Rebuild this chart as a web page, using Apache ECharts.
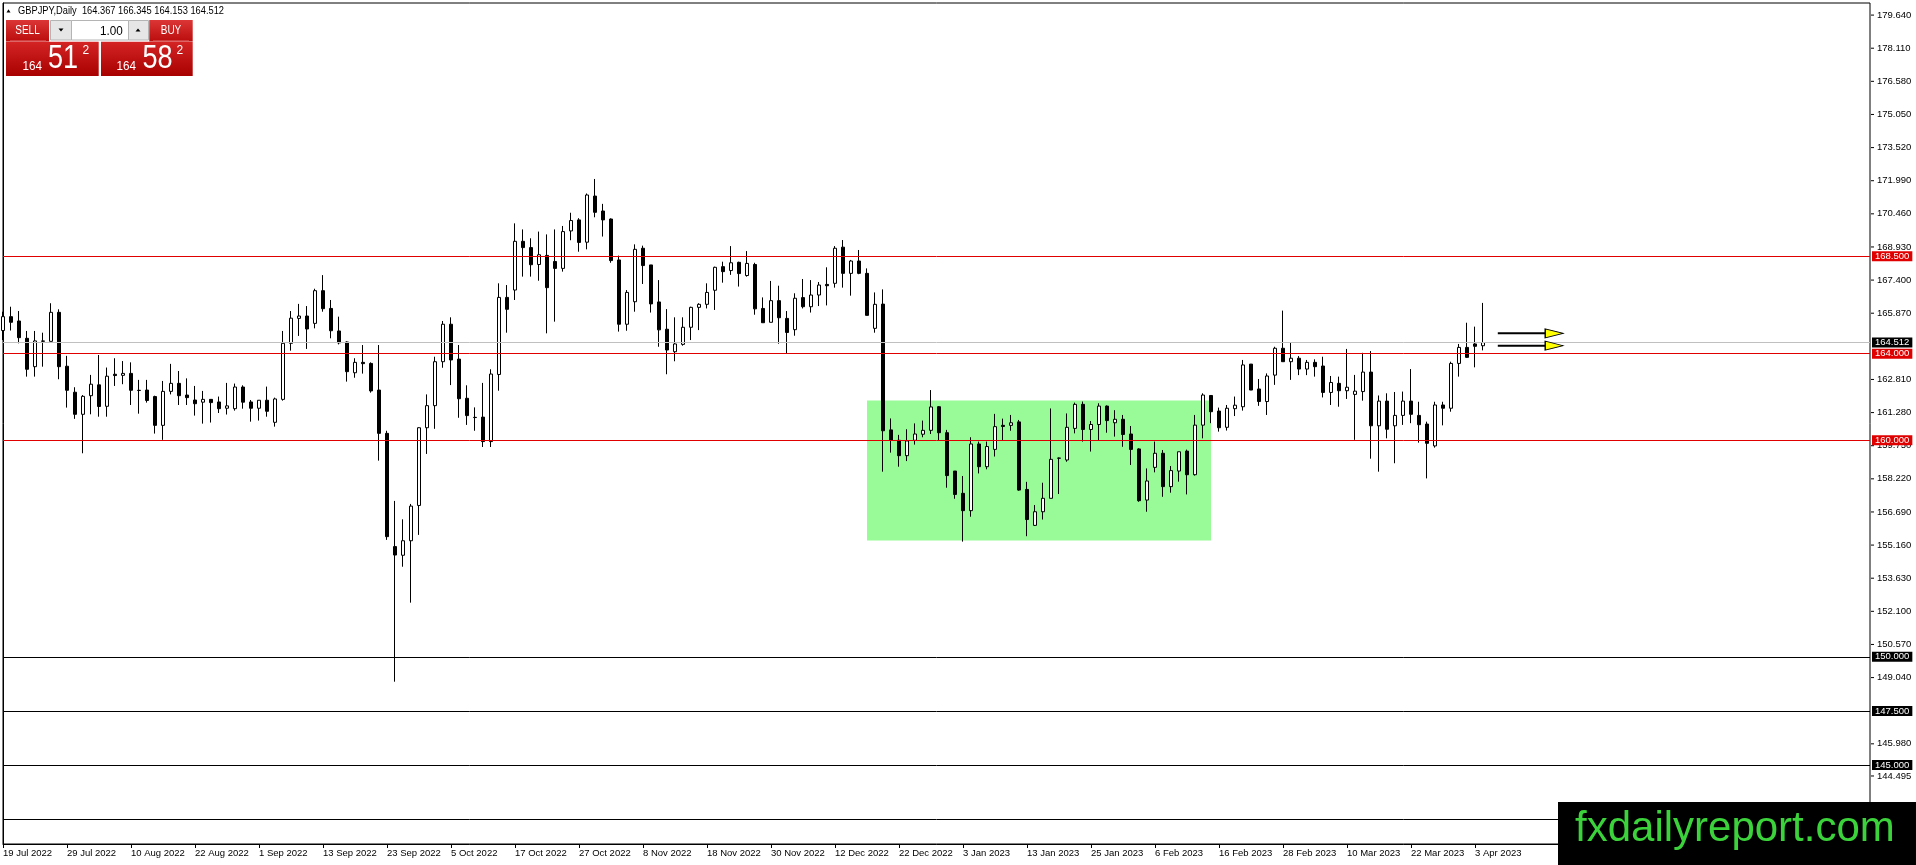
<!DOCTYPE html>
<html><head><meta charset="utf-8">
<script src="https://cdn.jsdelivr.net/npm/echarts@6/dist/echarts.min.js"></script>
<style>html,body{margin:0;padding:0;background:#fff;overflow:hidden}#c{width:1916px;height:865px;}</style>
</head><body><div id="c"></div>
<script>
// ---- data ----
const xTickLabels = ['19 Jul 2022','29 Jul 2022','10 Aug 2022','22 Aug 2022','1 Sep 2022','13 Sep 2022','23 Sep 2022','5 Oct 2022','17 Oct 2022','27 Oct 2022','8 Nov 2022','18 Nov 2022','30 Nov 2022','12 Dec 2022','22 Dec 2022','3 Jan 2023','13 Jan 2023','25 Jan 2023','6 Feb 2023','16 Feb 2023','28 Feb 2023','10 Mar 2023','22 Mar 2023','3 Apr 2023'];
const xTickBars = [0,8,16,24,32,40,48,56,64,72,80,88,96,104,112,120,128,136,144,152,160,168,176,184];
const yTickLabels = ['179.640','178.110','176.580','175.050','173.520','171.990','170.460','168.930','167.400','165.870','162.810','161.280','159.750','158.220','156.690','155.160','153.630','152.100','150.570','149.040','145.980','144.495'];

const opens = [165.07,165.71,165.51,164.71,163.40,164.57,164.57,165.91,163.42,162.22,
161.20,162.06,162.56,161.57,163.05,163.00,163.09,162.31,162.32,162.02,
160.69,162.26,162.63,162.09,161.86,161.76,161.89,161.77,161.48,161.46,
162.46,161.77,161.48,161.85,160.83,161.89,164.48,165.63,165.74,165.40,
166.91,166.09,165.05,164.54,163.12,163.60,163.55,162.32,160.32,155.09,
154.69,155.36,156.99,160.58,161.60,163.63,165.36,163.75,161.94,161.06,
161.07,159.94,163.04,166.60,166.94,169.19,168.90,168.12,168.54,168.26,
167.94,169.67,170.18,169.15,171.28,170.59,170.22,168.33,165.36,166.40,
168.87,168.10,166.39,165.13,164.09,164.43,165.22,166.14,166.28,166.93,
168.02,167.84,168.22,167.61,168.12,166.09,165.45,166.45,165.63,165.11,
166.59,166.17,166.71,167.20,167.25,168.92,167.71,168.28,167.71,165.17,
166.29,160.48,160.00,159.29,160.00,160.28,160.46,161.55,160.35,158.58,
157.55,156.75,159.83,158.78,159.58,160.69,160.69,160.85,157.73,156.07,
156.70,157.32,159.17,159.09,160.55,161.66,160.50,160.73,161.58,160.81,
160.97,160.29,159.60,157.24,158.75,159.40,157.86,158.58,159.50,158.41,
160.70,162.07,161.35,160.60,161.46,161.55,163.52,162.37,161.79,163.01,
164.25,163.63,163.79,163.29,163.60,163.43,162.21,162.63,162.29,162.12,
162.25,163.15,160.67,161.81,160.67,161.15,161.81,161.15,160.75,159.74,
161.63,161.48,163.55,164.29,164.45,164.367];
const closes = [165.71,165.45,164.74,163.28,164.59,164.59,165.91,163.40,162.31,161.20,
162.03,162.59,161.56,162.96,162.99,163.09,162.31,162.30,161.84,160.69,
162.26,162.63,162.06,161.97,161.69,161.89,161.74,161.46,161.59,162.46,
161.76,161.48,161.85,161.34,161.91,164.48,165.64,165.74,165.14,166.91,
166.08,165.06,164.50,163.17,163.60,163.54,162.28,160.32,155.55,154.70,
155.36,156.96,160.58,161.60,163.63,165.36,163.71,161.92,161.14,161.05,
159.94,163.06,166.60,166.05,169.19,168.90,168.11,168.57,167.05,167.94,
169.64,170.15,169.14,171.33,170.53,170.18,168.30,165.36,166.83,168.82,
168.07,166.30,165.10,164.17,164.45,165.22,166.14,166.28,166.83,167.99,
167.79,168.20,167.70,168.17,166.07,165.43,166.45,165.66,164.98,166.56,
166.17,166.71,167.17,167.14,168.87,167.71,168.28,167.71,165.77,166.28,
160.44,160.00,159.29,159.97,160.29,160.46,161.54,160.35,158.37,157.50,
156.75,159.83,158.78,159.71,160.63,160.64,160.81,157.70,156.34,156.70,
157.32,159.12,159.18,160.60,161.66,160.50,160.73,161.58,160.91,160.97,
160.27,159.58,157.21,158.12,159.40,157.86,158.60,159.47,158.41,160.70,
162.09,161.32,160.58,161.48,161.62,163.48,162.32,161.79,162.97,164.25,
163.63,163.79,163.29,163.60,163.40,162.21,162.67,162.29,162.45,162.27,
163.15,160.67,161.81,160.51,161.15,161.81,161.20,160.72,159.86,161.63,
161.48,163.55,164.29,163.83,164.34,164.512];
const lows = [164.63,165.07,164.48,162.94,162.94,163.40,164.57,162.82,161.51,160.99,
159.40,161.20,161.09,161.09,162.51,162.59,161.63,161.23,161.74,160.31,
160.02,162.12,161.63,161.63,161.14,160.77,160.82,161.26,161.19,161.37,
161.46,160.86,160.91,161.09,160.63,161.83,164.14,164.82,164.22,165.17,
165.94,164.71,164.43,162.71,162.89,163.08,162.20,159.06,155.40,148.85,
154.16,152.50,155.63,159.37,160.53,163.35,162.55,161.04,160.71,160.44,
159.69,159.69,162.29,164.97,166.48,167.56,167.56,167.37,164.94,165.48,
167.79,169.24,168.71,168.82,170.30,169.41,168.20,165.02,165.06,165.94,
167.22,165.90,164.32,163.05,163.65,164.37,164.63,165.09,166.09,166.02,
167.28,167.64,167.10,167.56,165.80,165.43,165.45,164.46,163.99,164.83,
166.09,165.90,166.20,166.23,167.05,167.05,166.68,167.67,165.77,164.97,
158.55,159.43,158.78,159.04,159.80,160.14,160.29,160.01,157.81,157.30,
155.32,156.47,158.47,158.66,159.25,160.00,160.44,157.67,155.57,156.04,
156.34,157.32,157.52,159.01,160.32,159.94,159.48,160.01,160.35,160.17,
159.70,158.86,157.16,156.70,158.52,157.39,157.58,158.09,157.50,158.37,
160.09,160.79,160.40,160.45,161.12,161.37,162.32,161.59,161.17,162.56,
163.63,162.79,163.01,163.01,162.94,161.98,161.63,161.55,161.91,160.02,
161.83,159.15,158.55,160.09,158.94,160.71,160.79,159.89,158.24,159.66,
160.69,161.32,162.94,163.80,163.37,164.153];
const highs = [165.94,166.17,165.97,165.05,165.05,164.97,166.33,166.05,163.90,162.45,
162.09,163.02,163.94,163.36,163.79,163.66,163.60,162.79,162.79,162.06,
162.74,163.53,163.20,162.86,162.51,162.28,161.89,162.02,162.65,162.62,
162.54,161.86,161.86,162.48,161.97,165.05,165.97,166.30,166.20,167.00,
167.63,166.48,165.71,164.57,163.79,164.40,163.60,164.40,160.44,157.20,
156.35,157.06,160.60,162.12,163.86,165.51,165.68,164.40,162.54,161.52,
162.65,163.28,167.25,167.17,170.02,169.74,169.33,169.64,169.51,169.74,
169.90,170.51,170.26,171.40,172.07,170.92,170.25,168.53,166.94,169.05,
168.99,168.10,167.40,166.06,165.68,165.68,166.17,166.33,167.25,168.02,
168.25,168.97,168.25,168.74,168.20,166.60,167.36,167.14,165.97,166.79,
167.45,167.40,167.31,167.99,168.97,169.25,168.33,168.79,167.94,166.83,
166.97,161.01,160.25,160.51,160.78,160.91,162.32,161.58,160.48,158.58,
158.35,160.14,159.94,159.94,161.22,161.00,161.17,160.94,158.08,157.01,
158.04,161.47,159.20,161.24,161.74,161.79,160.89,161.71,161.61,161.39,
161.17,160.66,159.63,158.70,159.94,159.55,158.81,159.47,159.57,161.17,
162.17,162.07,161.51,161.63,162.02,163.71,163.52,162.83,163.09,164.32,
165.99,164.51,163.89,163.71,163.74,163.86,162.97,162.94,164.22,163.02,
164.04,164.12,162.07,162.17,162.23,162.25,163.29,161.78,160.86,161.78,
161.78,163.63,164.45,165.43,165.25,166.345];

const redLevels = [168.5, 164.0, 160.0];
const blackLevels = [150.0, 147.5, 145.0, 142.5];
const bidPrice = 164.512;
const zoneBars = [108, 151];
const zonePrices = [161.84, 155.37];
const arrowPrices = [164.94, 164.37];
const arrowBars = [186.85, 192.9, 193.9];
const headerText = 'GBPJPY,Daily  164.367 166.345 164.153 164.512';

// ---- chart ----
const AFONT = '"Liberation Sans",Arial,sans-serif';
const AXFS = 9.5;
const chart = echarts.init(document.getElementById('c'), null, {renderer: 'canvas'});
const candles = opens.map((o, i) => [i, o, closes[i], lows[i], highs[i]]);
const yTickValues = yTickLabels.map(Number);

function levelLine(v, color, bg) {
  return {yAxis: v, lineStyle: {color: color, width: 1, type: 'solid'},
    label: {show: true, position: 'end', distance: 2, formatter: () => v.toFixed(3),
      color: '#fff', backgroundColor: bg, padding: [0, 3, 0, 3], lineHeight: 10,
      fontSize: AXFS, fontFamily: AFONT}};
}
const markLines = [levelLine(bidPrice, '#c0c0c0', '#000')]
  .concat(redLevels.map(v => levelLine(v, '#e00000', '#e00000')))
  .concat(blackLevels.map(v => levelLine(v, '#000', '#000')));

function grad(a, b) {
  return new echarts.graphic.LinearGradient(0, 0, 0, 1, [{offset: 0, color: a}, {offset: 1, color: b}]);
}
function txt(t, x, y, font, align, fill, sx) {
  return {type: 'text', x: x, y: y, silent: true, scaleX: sx || 1,
    style: {text: t, font: font, fill: fill || '#fff', align: align || 'left', verticalAlign: 'middle',
      textAlign: align || 'left', textVerticalAlign: 'middle'}};
}

const graphics = [
  // header
  {type: 'polygon', shape: {points: [[6.5, 12.5], [10.5, 12.5], [8.5, 9.3]]}, style: {fill: '#000'}},
  txt(headerText, 18, 11, '11px ' + AFONT, 'left', '#000', 0.845),
  // SELL / BUY buttons
  {type: 'rect', shape: {x: 6, y: 20, width: 43, height: 21.5}, style: {fill: grad('#dc3636', '#bb0c0c')}},
  txt('SELL', 27.5, 31, '12.5px ' + AFONT, 'center', '#fff', 0.8),
  {type: 'line', shape: {x1: 10, y1: 41, x2: 46, y2: 41}, style: {stroke: '#e57373', lineWidth: 1}},
  {type: 'rect', shape: {x: 149.3, y: 20, width: 43.4, height: 21.5}, style: {fill: grad('#dc3636', '#bb0c0c')}},
  txt('BUY', 171, 31, '12.5px ' + AFONT, 'center', '#fff', 0.8),
  {type: 'line', shape: {x1: 153, y1: 41, x2: 189, y2: 41}, style: {stroke: '#e57373', lineWidth: 1}},
  // lot control
  {type: 'rect', shape: {x: 50.5, y: 20.5, width: 21, height: 19.5}, style: {fill: '#e6e6e6', stroke: '#b4b4b4', lineWidth: 1}},
  {type: 'polygon', shape: {points: [[58.5, 28.5], [63.5, 28.5], [61, 31.5]]}, style: {fill: '#000'}},
  {type: 'rect', shape: {x: 71.5, y: 20.5, width: 57, height: 19.5}, style: {fill: '#fff', stroke: '#b4b4b4', lineWidth: 1}},
  txt('1.00', 122.7, 31, '13px ' + AFONT, 'right', '#000', 0.9),
  {type: 'rect', shape: {x: 128.5, y: 20.5, width: 20, height: 19.5}, style: {fill: '#e6e6e6', stroke: '#b4b4b4', lineWidth: 1}},
  {type: 'polygon', shape: {points: [[135.5, 31.5], [140.5, 31.5], [138, 28.5]]}, style: {fill: '#000'}},
  // price boxes
  {type: 'rect', shape: {x: 6, y: 41.7, width: 92.7, height: 34.3}, style: {fill: grad('#d42424', '#a80000')}},
  {type: 'rect', shape: {x: 101, y: 41.7, width: 91.7, height: 34.3}, style: {fill: grad('#d42424', '#a80000')}},
  txt('164', 22.5, 66, '13px ' + AFONT, 'left', '#fff', 0.9),
  txt('51', 48, 59, '33px ' + AFONT, 'left', '#fff', 0.82),
  txt('2', 82.5, 51, '12px ' + AFONT, 'left'),
  txt('164', 116.5, 66, '13px ' + AFONT, 'left', '#fff', 0.9),
  txt('58', 142.5, 59, '33px ' + AFONT, 'left', '#fff', 0.82),
  txt('2', 176.5, 51, '12px ' + AFONT, 'left'),
  // watermark
  {type: 'rect', z: 100, shape: {x: 1558, y: 802, width: 358, height: 63}, style: {fill: '#000'}},
  Object.assign(txt('fxdailyreport.com', 1575, 829, '42px ' + AFONT, 'left', '#3bd23b'), {z: 101})
];

const option = {
  animation: false,
  backgroundColor: '#fff',
  grid: {left: 3, top: 3, right: 46, bottom: 21, show: true, borderColor: '#000', borderWidth: 1},
  xAxis: {
    type: 'value', min: 0, max: 1867 / 8, splitLine: {show: false},
    axisLine: {show: true, lineStyle: {color: '#000', width: 1}},
    axisTick: {show: true, customValues: xTickBars, length: 4, lineStyle: {color: '#000'}},
    axisLabel: {customValues: xTickBars, formatter: v => xTickLabels[xTickBars.indexOf(Math.round(v))] || '',
      align: 'left', margin: 4, color: '#000', fontSize: AXFS, fontFamily: AFONT}
  },
  yAxis: {
    type: 'value', position: 'right', min: 141.353, max: 180.198, splitLine: {show: false},
    axisLine: {show: true, lineStyle: {color: '#000', width: 1}},
    axisTick: {show: false},
    axisLabel: {customValues: yTickValues, formatter: v => '{t|}{g|}' + v.toFixed(3), margin: 1,
      color: '#000', fontSize: AXFS, fontFamily: AFONT,
      rich: {t: {width: 3, height: 1, backgroundColor: '#000'}, g: {width: 3}}}
  },
  series: [
    {type: 'line', name: 'zone', data: [], z: 1, silent: true,
      markArea: {silent: true, itemStyle: {color: '#98fb98', opacity: 1},
        data: [[{xAxis: zoneBars[0], yAxis: zonePrices[0]}, {xAxis: zoneBars[1], yAxis: zonePrices[1]}]]}},
    {type: 'candlestick', name: 'GBPJPY', data: candles, encode: {x: 0, y: [1, 2, 3, 4]},
      z: 3, barWidth: 4, silent: true, clip: true,
      itemStyle: {color: '#ffffff', color0: '#000000', borderColor: '#000000', borderColor0: '#000000', borderWidth: 1},
      markLine: {silent: true, symbol: ['none', 'none'], precision: 3, data: markLines, z: 4}},
    {type: 'line', data: [[arrowBars[0], arrowPrices[0]], [arrowBars[1], arrowPrices[0]]], symbol: 'none', z: 5, silent: true,
      lineStyle: {color: '#000', width: 2}},
    {type: 'line', data: [[arrowBars[0], arrowPrices[1]], [arrowBars[1], arrowPrices[1]]], symbol: 'none', z: 5, silent: true,
      lineStyle: {color: '#000', width: 2}},
    {type: 'scatter', data: [[arrowBars[2], arrowPrices[0]], [arrowBars[2], arrowPrices[1]]], z: 6, silent: true,
      symbol: 'triangle', symbolRotate: -90, symbolSize: [9, 18],
      itemStyle: {color: '#ffff00', borderColor: '#000', borderWidth: 1, opacity: 1}}
  ],
  graphic: {elements: graphics}
};
chart.setOption(option);
</script>
</body></html>
